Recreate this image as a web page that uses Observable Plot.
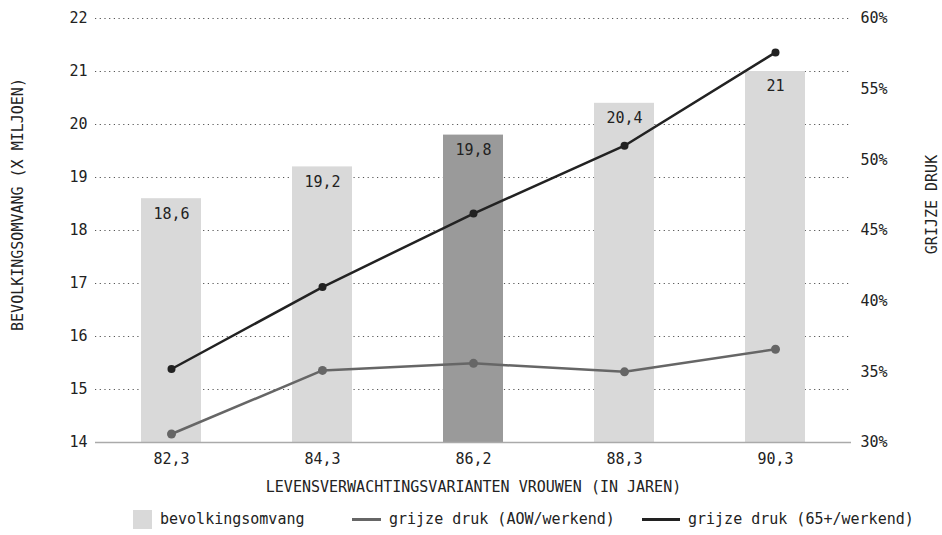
<!DOCTYPE html>
<html>
<head>
<meta charset="utf-8">
<script src="https://cdn.jsdelivr.net/npm/d3@7"></script>
<script src="https://cdn.jsdelivr.net/npm/@observablehq/plot@0.6"></script>
<style>
  html, body { margin: 0; padding: 0; background: #fff; }
  #wrap { position: relative; width: 942px; height: 535px; font-family: "DejaVu Sans Mono", monospace; color: #222; }
  .lg { position: absolute; font-size: 15px; line-height: 20px; top: 509px; white-space: nowrap; }
  .sw { position: absolute; }
</style>
</head>
<body>
<div id="wrap"></div>
<script>
const categories = ["82,3", "84,3", "86,2", "88,3", "90,3"];
const bevolking = [18.6, 19.2, 19.8, 20.4, 21];
const drukAOW = [30.6, 35.1, 35.6, 35.0, 36.6];
const druk65 = [35.2, 41.0, 46.2, 51.0, 57.6];
const leftTicks = [14, 15, 16, 17, 18, 19, 20, 21, 22];
const gridTicks = [15, 16, 17, 18, 19, 20, 21, 22];
const rightTicks = [30, 35, 40, 45, 50, 55, 60];
const highlight = "86,2";

const yMin = 14, yMax = 22, pMin = 30, pMax = 60;
const toLeft = p => yMin + (p - pMin) / (pMax - pMin) * (yMax - yMin);
const toPct = v => pMin + (v - yMin) / (yMax - yMin) * (pMax - pMin);

const rows = categories.map((c, i) => ({cat: c, bev: bevolking[i], aow: drukAOW[i], p65: druk65[i]}));
const fmt = v => String(v).replace(".", ",");

const chart = Plot.plot({
  width: 942,
  height: 500,
  marginLeft: 95,
  marginRight: 91,
  marginTop: 18,
  marginBottom: 58,
  style: {fontFamily: "DejaVu Sans Mono, monospace", fontSize: "15px", color: "#222", background: "#fff", overflow: "visible"},
  x: {domain: categories, paddingInner: 0.6, paddingOuter: 0.3, align: 0.5},
  y: {domain: [yMin, yMax]},
  marks: [
    Plot.gridY(gridTicks, {stroke: "#555", strokeOpacity: 1, strokeWidth: 1, strokeDasharray: "1.2,3.5"}),
    Plot.barY(rows.filter(d => d.cat !== highlight), {x: "cat", y1: yMin, y2: "bev", fill: "#d9d9d9"}),
    Plot.barY(rows.filter(d => d.cat === highlight), {x: "cat", y1: yMin, y2: "bev", fill: "#9a9a9a"}),
    Plot.ruleY([yMin], {stroke: "#aaa", strokeWidth: 1.5}),
    Plot.text(rows, {x: "cat", y: "bev", text: d => fmt(d.bev), dy: 15, fill: "#222", fontSize: 15}),
    Plot.line(rows, {x: "cat", y: d => toLeft(d.aow), stroke: "#666", strokeWidth: 2.5}),
    Plot.dot(rows, {x: "cat", y: d => toLeft(d.aow), r: 4.5, fill: "#666"}),
    Plot.line(rows, {x: "cat", y: d => toLeft(d.p65), stroke: "#222", strokeWidth: 2.5}),
    Plot.dot(rows, {x: "cat", y: d => toLeft(d.p65), r: 4, fill: "#222"}),
    Plot.axisY(leftTicks, {anchor: "left", tickSize: 0, tickPadding: 8, label: null, fill: "#222",
      tickFormat: d => String(d)}),
    Plot.axisY(rightTicks.map(toLeft), {anchor: "right", tickSize: 0, tickPadding: 9, label: null, fill: "#222",
      tickFormat: d => Math.round(toPct(d)) + "%"}),
    Plot.axisX({tickSize: 0, tickPadding: 11, label: null, fill: "#222"}),
    Plot.text(["LEVENSVERWACHTINGSVARIANTEN VROUWEN (IN JAREN)"], {frameAnchor: "bottom", dy: 45, lineAnchor: "middle", textAnchor: "middle", fill: "#222", fontSize: 15}),
    Plot.text(["BEVOLKINGSOMVANG (X MILJOEN)"], {frameAnchor: "left", dx: -77, dy: -26, rotate: -90, textAnchor: "middle", lineAnchor: "middle", fill: "#222", fontSize: 15}),
    Plot.text(["GRIJZE DRUK"], {frameAnchor: "right", dx: 81, dy: -26, rotate: -90, textAnchor: "middle", lineAnchor: "middle", fill: "#222", fontSize: 15})
  ]
});

const wrap = document.getElementById("wrap");
wrap.appendChild(chart);

const legendItems = [
  {label: "bevolkingsomvang", kind: "box", color: "#d9d9d9", sx: 133, sw: 19, tx: 160},
  {label: "grijze druk (AOW/werkend)", kind: "line", color: "#666", sx: 352, sw: 29, tx: 389},
  {label: "grijze druk (65+/werkend)", kind: "line", color: "#222", sx: 642, sw: 38, tx: 688}
];
for (const it of legendItems) {
  const s = document.createElement("div");
  s.className = "sw";
  s.style.left = it.sx + "px";
  s.style.width = it.sw + "px";
  s.style.background = it.color;
  if (it.kind === "box") { s.style.top = "510px"; s.style.height = "19px"; }
  else { s.style.top = "518px"; s.style.height = "2.5px"; }
  wrap.appendChild(s);
  const t = document.createElement("div");
  t.className = "lg";
  t.style.left = it.tx + "px";
  t.textContent = it.label;
  wrap.appendChild(t);
}
</script>
</body>
</html>
